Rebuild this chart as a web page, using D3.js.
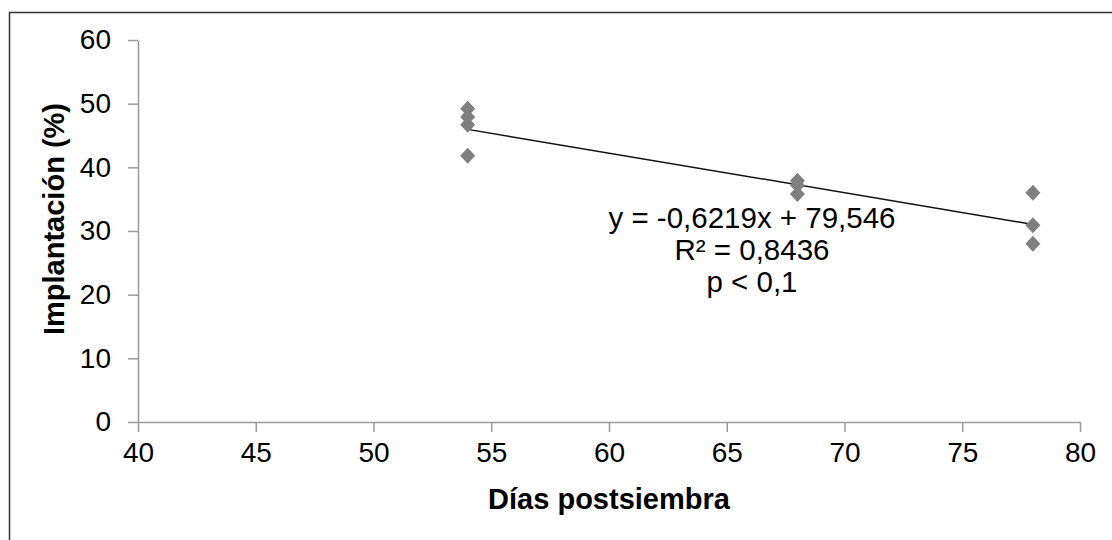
<!DOCTYPE html>
<html>
<head>
<meta charset="utf-8">
<script src="https://cdn.jsdelivr.net/npm/d3@7"></script>
<style>
  body { margin: 0; background: #fff; }
  svg { display: block; font-family: "Liberation Sans", Arial, sans-serif; }
</style>
</head>
<body>
<svg id="chart" width="1112" height="540"></svg>
<script>
// data
var dias = [54, 54, 54, 54, 68, 68, 68, 78, 78, 78];
var implantacion = [49.2, 47.9, 46.7, 41.8, 37.9, 37.2, 35.8, 36.0, 30.9, 28.0];
var xTicks = [40, 45, 50, 55, 60, 65, 70, 75, 80];
var yTicks = [0, 10, 20, 30, 40, 50, 60];
var slope = -0.6219, intercept = 79.546;
var trendX = [54, 78];
var eqLines = ["y = -0,6219x + 79,546", "R\u00b2 = 0,8436", "p < 0,1"];

var svg = d3.select("#chart");

// outer frame (right and bottom edges are cut off in the original)
svg.append("rect")
    .attr("x", 9.5).attr("y", 12.5)
    .attr("width", 1200).attr("height", 600)
    .attr("fill", "none")
    .attr("stroke", "#333")
    .attr("stroke-width", 1.5);

var x = d3.scaleLinear().domain([40, 80]).range([138, 1080]);
var y = d3.scaleLinear().domain([0, 60]).range([422, 40]);

var axisColor = "#9a9a9a";

// y axis
var gy = svg.append("g")
    .attr("transform", "translate(" + x(40) + ",0)")
    .call(d3.axisLeft(y).tickValues(yTicks).tickSize(10).tickPadding(17).tickSizeOuter(0));
// x axis
var gx = svg.append("g")
    .attr("transform", "translate(0," + y(0) + ")")
    .call(d3.axisBottom(x).tickValues(xTicks).tickSize(10).tickPadding(10).tickSizeOuter(0));

[gx, gy].forEach(function(g){
    g.selectAll("path, line").attr("stroke", axisColor).attr("stroke-width", 1.5);
    g.selectAll("text")
        .attr("fill", "#000")
        .style("font-size", "28px")
        .style("font-family", "Liberation Sans, Arial, sans-serif");
});

// axis titles
svg.append("text")
    .attr("x", 609).attr("y", 509)
    .attr("text-anchor", "middle")
    .style("font-size", "29px").style("font-weight", "bold")
    .text("Días postsiembra");

svg.append("text")
    .attr("transform", "translate(64,219) rotate(-90)")
    .attr("text-anchor", "middle")
    .style("font-size", "29px").style("font-weight", "bold")
    .text("Implantación (%)");

// trend line
svg.append("line")
    .attr("x1", x(trendX[0])).attr("y1", y(slope * trendX[0] + intercept))
    .attr("x2", x(trendX[1])).attr("y2", y(slope * trendX[1] + intercept))
    .attr("stroke", "#111")
    .attr("stroke-width", 1.5);

// diamonds
var pts = dias.map(function(d, i){ return {x: d, y: implantacion[i]}; });
svg.append("g").selectAll("path")
    .data(pts)
    .enter()
    .append("path")
    .attr("d", "M0,-8L7.5,0L0,8L-7.5,0Z")
    .attr("transform", function(d){ return "translate(" + x(d.x) + "," + y(d.y) + ")"; })
    .attr("fill", "#7f7f7f");

// equation
svg.append("g").selectAll("text")
    .data(eqLines)
    .enter()
    .append("text")
    .attr("x", 752)
    .attr("y", function(d, i){ return 228 + i * 32; })
    .attr("text-anchor", "middle")
    .style("font-size", "29.5px")
    .text(function(d){ return d; });
</script>
</body>
</html>
